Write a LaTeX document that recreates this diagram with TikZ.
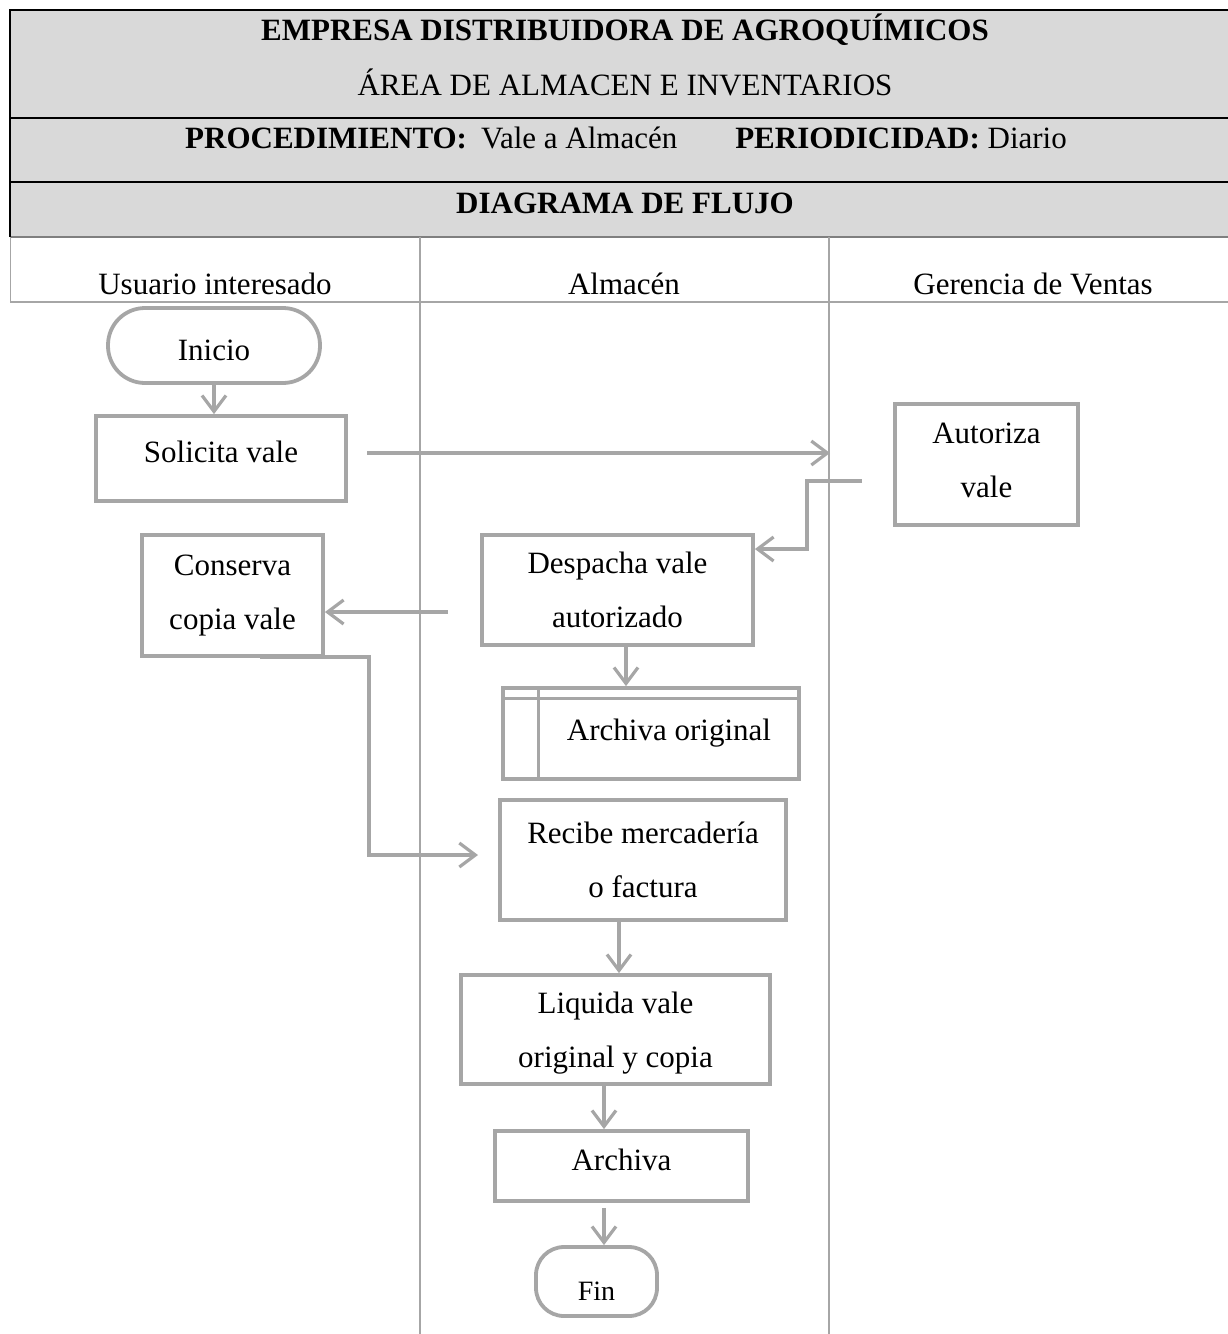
\documentclass[tikz,border=0pt]{standalone}
\usepackage{fontspec}
\setmainfont{Liberation Serif}
\usetikzlibrary{arrows.meta,calc}
\definecolor{hdrfill}{HTML}{D9D9D9}
\definecolor{flowgray}{HTML}{A6A6A6}
\definecolor{rulegray}{HTML}{7F7F7F}

\begin{document}
\begin{tikzpicture}[x=1pt,y=-1pt,
  big/.style={font=\fontsize{31}{54}\selectfont},
  bigbold/.style={font=\fontsize{31}{54}\selectfont\bfseries},
  proc/.style={big, draw=flowgray, line width=3.8pt, inner sep=0pt, align=center, fill=white},
  term/.style={proc, rounded corners=#1},
  arr/.style={draw=flowgray, line width=3.2pt,
    -{Straight Barb[length=16pt,width=24pt,line width=3.2pt]}},
  lane/.style={draw=flowgray, line width=1.8pt},
  hdrtxt/.style={anchor=base}
]
\useasboundingbox (0,0) rectangle (1228,1334);

% header block
\fill[hdrfill] (10,10) rectangle (1228,237);
\draw[line width=2pt] (10,10) -- (1228,10);
\draw[line width=2pt] (10,118) -- (1228,118);
\draw[line width=1.3pt] (10,182) -- (1228,182);
\draw[rulegray, line width=2.2pt] (10,237) -- (1228,237);
\draw[line width=2pt] (10,9) -- (10,237);

\node[hdrtxt, bigbold] (t1) at (625,40) {EMPRESA DISTRIBUIDORA DE AGROQUÍMICOS};
\node[hdrtxt, big] (t2) at (625,95) {ÁREA DE ALMACEN E INVENTARIOS};
\node[hdrtxt, big] (t3) at (626,148) {\textbf{PROCEDIMIENTO:}\hspace{14pt}Vale a Almacén\hspace{58pt}\textbf{PERIODICIDAD:} Diario};
\node[hdrtxt, bigbold] (t4) at (625,213) {DIAGRAMA DE FLUJO};

% swimlanes
\draw[lane, line width=1pt] (10,237) -- (10,302);
\draw[lane] (10,302) -- (1228,302);
\draw[lane] (420,237) -- (420,1334);
\draw[lane] (829,237) -- (829,1334);

\node[hdrtxt, big] (l1) at (215,294) {Usuario interesado};
\node[hdrtxt, big] (l2) at (624,294) {Almacén};
\node[hdrtxt, big] (l3) at (1033,294) {Gerencia de Ventas};

% flow steps
\node[term=37pt, minimum width=212pt, minimum height=75pt, text height=29pt, text depth=0pt] (inicio) at (214,345.5) {Inicio};
\node[proc, minimum width=250pt, minimum height=85pt, text depth=13pt] (solicita) at (221,458.5) {Solicita vale};
\node[proc, minimum width=183pt, minimum height=121pt, text depth=8pt] (autoriza) at (986.5,464.5) {Autoriza\\vale};
\node[proc, minimum width=271pt, minimum height=110pt] (despacha) at (617.5,590) {Despacha vale\\autorizado};
\node[proc, minimum width=181pt, minimum height=121pt] (conserva) at (232.5,595.5) {Conserva\\copia vale};
\node[proc, minimum width=296pt, minimum height=91pt] (archo) at (651,733.5) {\hspace*{36pt}Archiva original};
\draw[flowgray, line width=3pt] ([yshift=-12pt]archo.north west) -- ([yshift=-12pt]archo.north east);
\draw[flowgray, line width=3pt] ([xshift=37pt]archo.north west) -- ([xshift=37pt]archo.south west);
\node[proc, minimum width=286pt, minimum height=120pt] (recibe) at (643,860) {Recibe mercadería\\o factura};
\node[proc, minimum width=309pt, minimum height=109pt, text depth=0pt] (liquida) at (615.5,1029.5) {Liquida vale\\original y copia};
\node[proc, minimum width=253pt, minimum height=70pt, text depth=13pt] (archiva) at (621.5,1166) {Archiva};
\node[term=28pt, minimum width=121pt, minimum height=69pt, text height=37pt, text depth=0pt,
      font=\fontsize{28}{34}\selectfont] (fin) at (596.5,1281.5) {Fin};

% connectors
\coordinate (s1) at (367,453);
\coordinate (s2) at (830,453);
\draw[arr] (s1) -- (s2);

\coordinate (a1) at (862,481);
\draw[arr] (a1) -- ++(-55,0) |- ([yshift=41pt]despacha.east);

\coordinate (d1) at (448,612);
\draw[arr] (d1) -- (d1 -| conserva.east);

\coordinate (c1) at (260,657);
\coordinate (c2) at (478,855);
\draw[arr] (c1) -- ++(109,0) |- (c2);

\draw[arr] (inicio.south) -- (inicio.south |- solicita.north);
\draw[arr] ([xshift=8.5pt]despacha.south) -- ([xshift=8.5pt]despacha.south |- archo.north);
\draw[arr] ([xshift=-24pt]recibe.south) -- ([xshift=-24pt]recibe.south |- liquida.north);
\draw[arr] ([xshift=-11.5pt]liquida.south) -- ([xshift=-11.5pt]liquida.south |- archiva.north);
\draw[arr] ([xshift=-17.5pt,yshift=-5pt]archiva.south) -- ([xshift=-17.5pt]archiva.south |- fin.north);
\end{tikzpicture}
\end{document}
